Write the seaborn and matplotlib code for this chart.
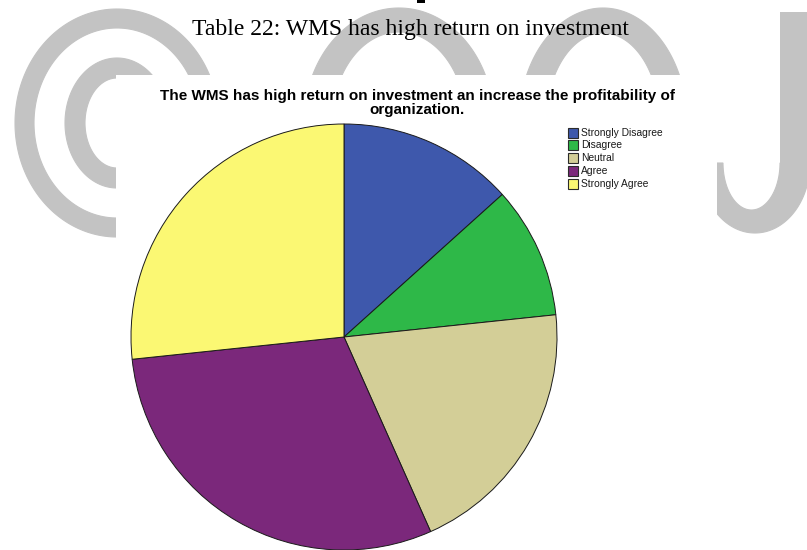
import numpy as np
import matplotlib
matplotlib.use("Agg")
import matplotlib.pyplot as plt
from matplotlib.patches import Polygon, Rectangle
import seaborn as sns

# Survey responses (number of respondents per answer)
categories = ["Strongly Disagree", "Disagree", "Neutral", "Agree", "Strongly Agree"]
counts = [4, 3, 6, 9, 8]
slice_colors = ["#3e58ac", "#2eb848", "#d3ce97", "#7b287b", "#fbf873"]

caption = "Table 22: WMS has high return on investment"
title = ("The WMS has high return on investment an increase the profitability of\n"
         "organization.")

sns.set_theme(style="white")
plt.rcParams["font.family"] = ["Liberation Sans", "DejaVu Sans"]

W, H = 807, 550
fig = plt.figure(figsize=(W / 100, H / 100), dpi=100)
fig.patch.set_facecolor("white")

# Page layer in pixel units, y pointing down
page = fig.add_axes([0, 0, 1, 1])
page.set_xlim(0, W)
page.set_ylim(H, 0)
page.axis("off")

GREY = "#c3c3c3"


def band(cx, cy, ao, bo, ai, bi, t0, t1, cxi=None, n=240):
    """Elliptical band between an outer and an inner ellipse."""
    cxi = cx if cxi is None else cxi
    t = np.radians(np.linspace(t0, t1, n))
    outer = np.column_stack([cx + ao * np.cos(t), cy - bo * np.sin(t)])
    tr = t[::-1]
    inner = np.column_stack([cxi + ai * np.cos(tr), cy - bi * np.sin(tr)])
    return Polygon(np.vstack([outer, inner]), closed=True, fc=GREY, ec=GREY,
                   lw=0.8, zorder=1)


# Background watermark
for p in [
    band(117, 123, 102, 114, 83, 95, 0, 360),        # copyright ring
    band(117, 123, 52, 65, 32, 45, 40, 320),         # inner C
    band(399, 123, 95, 115, 67, 91, 0, 360),         # O
    band(603, 123, 84, 115, 57, 90, 0, 360),         # O
    band(755, 163, 55, 70, 28.5, 47, 180, 360, cxi=751.5),  # J hook
]:
    page.add_patch(p)
page.add_patch(Rectangle((780, 12), 32, 153, fc=GREY, ec="none", zorder=1))  # J stem
page.add_patch(Rectangle((417, 0), 8, 3, fc="black", ec="none", zorder=1))

# Caption above the chart
page.text(410, 29, caption, family=["Liberation Serif", "DejaVu Serif"], fontsize=17,
          ha="center", va="center", color="black", zorder=2)

# Chart sheet
page.add_patch(Rectangle((116, 75), 601, 480, fc="white", ec="none", zorder=3))

page.text(417, 103, title, ha="center", va="center", fontsize=11.0, fontweight="bold",
          linespacing=1.0, color="black", zorder=4)

# Legend
palette = sns.color_palette(slice_colors)
for i, (lab, col) in enumerate(zip(categories, palette)):
    y = 132.5 + 12.8 * i
    page.add_patch(Rectangle((568, y - 5), 10, 10, fc=col, ec="#2b2b2b", lw=0.8, zorder=4))
    page.text(581, y, lab, ha="left", va="center", fontsize=7.4, color="#1a1a1a", zorder=4)

# Pie chart
cx, cy, r = 344, 337, 213
ax = fig.add_axes([(cx - r) / W, (H - cy - r) / H, 2 * r / W, 2 * r / H])
ax.pie(counts, colors=palette, startangle=90, counterclock=False,
       wedgeprops=dict(edgecolor="#1a1a1a", linewidth=0.7))
ax.set_xlim(-1, 1)
ax.set_ylim(-1, 1)
ax.set_aspect("equal")
ax.axis("off")

fig.savefig("out.png", dpi=100, facecolor="white")
